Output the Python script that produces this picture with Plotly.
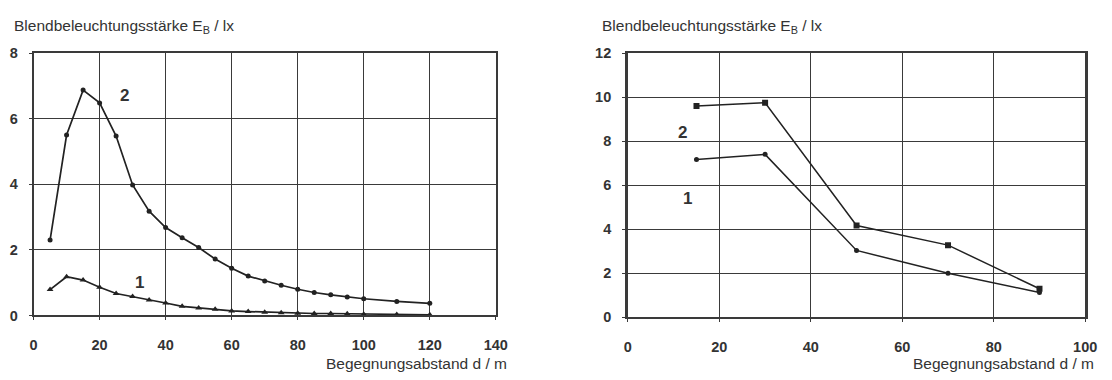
import plotly.graph_objects as go

# Left chart data
d_left = [5, 10, 15, 20, 25, 30, 35, 40, 45, 50, 55, 60, 65, 70, 75, 80, 85, 90, 95, 100, 110, 120]
e2_left = [2.3, 5.5, 6.87, 6.48, 5.47, 3.98, 3.18, 2.68, 2.37, 2.07, 1.72, 1.44, 1.2, 1.05, 0.92, 0.8, 0.7, 0.63, 0.56, 0.51, 0.43, 0.37]
e1_left = [0.79, 1.18, 1.08, 0.86, 0.67, 0.58, 0.47, 0.38, 0.28, 0.23, 0.19, 0.14, 0.12, 0.1, 0.08, 0.07, 0.06, 0.06, 0.05, 0.04, 0.03, 0.02]

# Right chart data
d_right = [15, 30, 50, 70, 90]
e2_right = [9.6, 9.74, 4.17, 3.28, 1.3]
e1_right = [7.17, 7.4, 3.04, 2.0, 1.13]

left_xticks = [0, 20, 40, 60, 80, 100, 120, 140]
left_yticks = [0, 2, 4, 6, 8]
right_xticks = [0, 20, 40, 60, 80, 100]
right_yticks = [0, 2, 4, 6, 8, 10, 12]

y_title = "Blendbeleuchtungsstärke E<sub>B</sub> / lx"
x_title = "Begegnungsabstand d / m"

line_col = "#222222"
grid_col = "#3a3a3a"
text_col = "#333333"

fig = go.Figure()

fig.add_trace(go.Scatter(x=d_left, y=e2_left, mode="lines+markers",
                         line=dict(color=line_col, width=1.7),
                         marker=dict(symbol="circle", size=5, color=line_col),
                         xaxis="x", yaxis="y", showlegend=False))
fig.add_trace(go.Scatter(x=d_left, y=e1_left, mode="lines+markers",
                         line=dict(color=line_col, width=1.7),
                         marker=dict(symbol="triangle-up", size=6, color=line_col),
                         xaxis="x", yaxis="y", showlegend=False))
fig.add_trace(go.Scatter(x=d_right, y=e2_right, mode="lines+markers",
                         line=dict(color=line_col, width=1.5),
                         marker=dict(symbol="square", size=6, color=line_col),
                         xaxis="x2", yaxis="y2", showlegend=False))
fig.add_trace(go.Scatter(x=d_right, y=e1_right, mode="lines+markers",
                         line=dict(color=line_col, width=1.5),
                         marker=dict(symbol="circle", size=5, color=line_col),
                         xaxis="x2", yaxis="y2", showlegend=False))

tickfont = dict(family="Liberation Sans, Arial, sans-serif", size=14.5, color=text_col, weight=700)

axis_common = dict(showgrid=True, gridcolor=grid_col, gridwidth=1.4,
                   showline=True, linecolor=grid_col, linewidth=1.6, mirror=True,
                   zeroline=False, ticks="outside", ticklen=3, tickcolor=grid_col,
                   tickfont=tickfont, fixedrange=True)

fig.update_layout(
    width=1112, height=380,
    margin=dict(l=0, r=0, t=0, b=0),
    paper_bgcolor="white", plot_bgcolor="white",
    xaxis=dict(domain=[30/1112, 499/1112], range=[0, 140], tickvals=left_xticks,
               anchor="y", ticklabelstandoff=12, **axis_common),
    yaxis=dict(domain=[(380-321)/380, (380-47)/380], range=[0, 8], tickvals=left_yticks,
               anchor="x", ticklabelstandoff=8, **axis_common),
    xaxis2=dict(domain=[633/1112, 1097/1112], range=[0, 100], tickvals=right_xticks,
                anchor="y2", ticklabelstandoff=12, **axis_common),
    yaxis2=dict(domain=[(380-323)/380, (380-47)/380], range=[0, 12], tickvals=right_yticks,
                anchor="x2", ticklabelstandoff=8, **axis_common),
)
fig.update_yaxes(selector=dict(anchor="x2"), linewidth=2.5)

label_font = dict(family="Liberation Sans, Arial, sans-serif", size=17, color=text_col, weight=700)
title_font = dict(family="Liberation Sans, Arial, sans-serif", size=15.5, color=text_col)

annotations = [
    dict(x=27.5, y=6.7, xref="x", yref="y", text="2", showarrow=False, font=label_font),
    dict(x=32, y=1.0, xref="x", yref="y", text="1", showarrow=False, font=label_font),
    dict(x=12, y=8.4, xref="x2", yref="y2", text="2", showarrow=False, font=label_font),
    dict(x=13, y=5.4, xref="x2", yref="y2", text="1", showarrow=False, font=label_font),
    dict(x=8/1112, y=1-19/380, xref="paper", yref="paper", text=y_title, showarrow=False,
         xanchor="left", yanchor="middle", font=title_font),
    dict(x=605/1112, y=1-19/380, xref="paper", yref="paper", text=y_title, showarrow=False,
         xanchor="left", yanchor="middle", font=title_font),
    dict(x=512/1112, y=1-371/380, xref="paper", yref="paper", text=x_title, showarrow=False,
         xanchor="right", yanchor="middle", font=title_font),
    dict(x=1108/1112, y=1-371/380, xref="paper", yref="paper", text=x_title, showarrow=False,
         xanchor="right", yanchor="middle", font=title_font),
]
fig.update_layout(annotations=annotations)

fig.write_html("out.html")
